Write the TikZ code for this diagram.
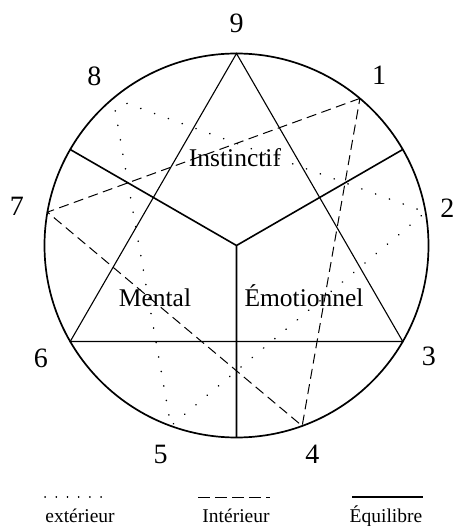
\documentclass[tikz,border=0pt]{standalone}
\usepackage{fontspec}
\setmainfont{Liberation Serif}
\usetikzlibrary{calc,positioning}

\begin{document}
\begin{tikzpicture}[x=1pt,y=1pt,
  exterieur/.style={line width=1.6pt,line cap=round,dash pattern=on 0.2pt off 14.5pt},
  interieur/.style={line width=1pt,dash pattern=on 10pt off 5.5pt},
  equilibre/.style={line width=1.6pt},
  chiffre/.style={font=\fontsize{28}{28}\selectfont},
  centre/.style={font=\fontsize{25.5}{25.5}\selectfont,anchor=base},
  legende/.style={font=\fontsize{19.5}{19.5}\selectfont,anchor=base}]
  \useasboundingbox (-236.5,-280.5) rectangle (221.5,245.5);
  \def\R{192}
  \coordinate (O) at (0,0);
  \foreach \n/\a/\r in {9/90/222,1/50/222,2/10/214,3/-30/222,4/-70/222,5/-110/222,6/-150/226,7/170/223,8/130/221}{
    \coordinate (p\n) at (\a:\R);
    \node[chiffre] (n\n) at (\a:\r) {\n};
  }
  \foreach \a/\m in {150/g,30/d,-90/b} \coordinate (r\m) at (\a:\R);
  \draw[line width=1.7pt] (O) circle (\R);
  \draw[line width=1.1pt] (p9) -- (p3) -- (p6) -- cycle;
  \draw[equilibre] (rg) -- (O) -- (rd) (O) -- (rb);
  \draw[interieur] (p1) -- (p7) -- (p4) -- cycle;
  \draw[exterieur] (p8) -- (p2) -- (p5) -- cycle;
  \node[centre] (instinctif) at (-1.5,78.8) {Instinctif};
  \node[centre] (mental) at (-81.5,-61.2) {Mental};
  \node[centre] (emotionnel) at (67.5,-61.2) {Émotionnel};
  % legende
  \coordinate (a1) at (-191.5,-251.5);
  \coordinate (a2) at (-124.5,-251.5);
  \coordinate (b1) at (-38.5,-251.5);
  \coordinate (b2) at (33.5,-251.5);
  \coordinate (c1) at (115.5,-251.5);
  \coordinate (c2) at (186.5,-251.5);
  \draw[exterieur,dash pattern=on 0.2pt off 11pt] (a1) -- (a2);
  \draw[interieur,dash pattern=on 12pt off 5pt] (b1) -- (b2);
  \draw[line width=1.1pt] (c1) -- (c2);
  \node[legende] (lext) at (-156.5,-277) {extérieur};
  \node[legende] (lint) at (-0.5,-277) {Intérieur};
  \node[legende] (lequ) at (149.5,-277) {Équilibre};
\end{tikzpicture}
\end{document}
